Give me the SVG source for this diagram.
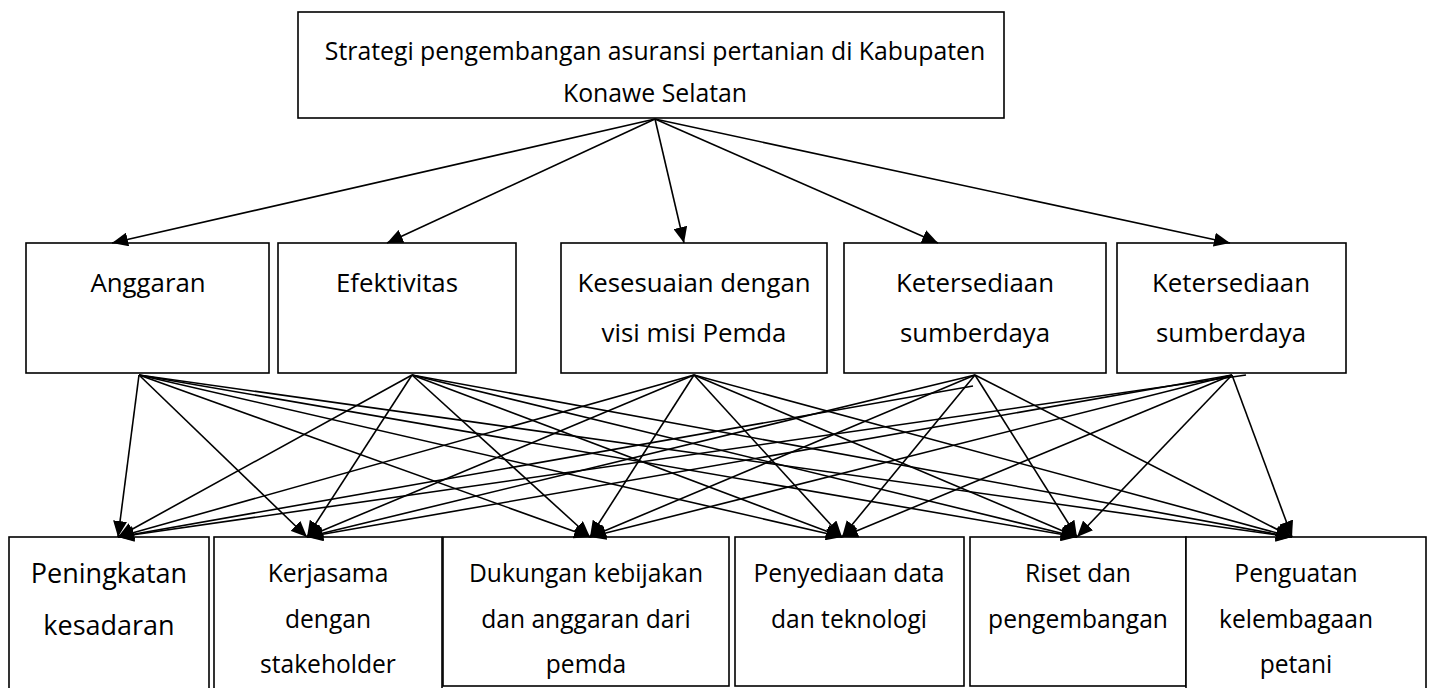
<svg xmlns="http://www.w3.org/2000/svg" width="1431" height="688" viewBox="0 0 1431 688">
<style>
.box{fill:#fff;stroke:#000;stroke-width:1.6}
.t{font-family:"Open Sans","Noto Sans",sans-serif;font-weight:400;fill:#000;text-anchor:middle}
.tt{font-size:24.8px}
.tm{font-size:25.8px}
.tb{font-size:24.6px}
.tp{font-size:27px}
.c line{stroke:#000;stroke-width:1.6;marker-end:url(#ah)}
</style>
<defs>
<marker id="ah" markerUnits="userSpaceOnUse" markerWidth="18" markerHeight="14" refX="16" refY="7" orient="auto">
<path d="M0,0 L16,7 L0,14 Z" fill="#000"/>
</marker>
</defs>
<g id="top">
<rect class="box" x="298" y="12" width="706" height="106"/>
<text class="t tt" x="655" y="60">Strategi pengembangan asuransi pertanian di Kabupaten</text>
<text class="t tt" x="655" y="102">Konawe Selatan</text>
</g>
<g id="anggaran">
<rect class="box" x="26" y="243" width="243" height="130"/>
<text class="t tm" x="148" y="292">Anggaran</text>
</g>
<g id="efektivitas">
<rect class="box" x="278" y="243" width="238" height="130"/>
<text class="t tm" x="397" y="292">Efektivitas</text>
</g>
<g id="kesesuaian">
<rect class="box" x="561" y="243" width="266" height="130"/>
<text class="t tm" x="694" y="292">Kesesuaian dengan</text>
<text class="t tm" x="694" y="342">visi misi Pemda</text>
</g>
<g id="ketersediaan1">
<rect class="box" x="844" y="243" width="262" height="130"/>
<text class="t tm" x="975" y="292">Ketersediaan</text>
<text class="t tm" x="975" y="342">sumberdaya</text>
</g>
<g id="ketersediaan2">
<rect class="box" x="1117" y="243" width="229" height="130"/>
<text class="t tm" x="1231" y="292">Ketersediaan</text>
<text class="t tm" x="1231" y="342">sumberdaya</text>
</g>
<g id="peningkatan">
<rect class="box" x="9" y="537" width="200" height="170"/>
<text class="t tp" x="109" y="583">Peningkatan</text>
<text class="t tp" x="109" y="635">kesadaran</text>
</g>
<g id="kerjasama">
<rect class="box" x="214" y="537" width="228" height="170"/>
<text class="t tb" x="328" y="582">Kerjasama</text>
<text class="t tb" x="328" y="628">dengan</text>
<text class="t tb" x="328" y="673">stakeholder</text>
</g>
<g id="dukungan">
<rect class="box" x="443" y="537" width="286" height="149"/>
<text class="t tb" x="586" y="582">Dukungan kebijakan</text>
<text class="t tb" x="586" y="628">dan anggaran dari</text>
<text class="t tb" x="586" y="673">pemda</text>
</g>
<g id="penyediaan">
<rect class="box" x="735" y="537" width="229" height="149"/>
<text class="t tb" x="849" y="582">Penyediaan data</text>
<text class="t tb" x="849" y="628">dan teknologi</text>
</g>
<g id="riset">
<rect class="box" x="970" y="537" width="216" height="149"/>
<text class="t tb" x="1078" y="582">Riset dan</text>
<text class="t tb" x="1078" y="628">pengembangan</text>
</g>
<g id="penguatan">
<rect class="box" x="1186" y="537" width="240" height="170"/>
<text class="t tb" x="1296" y="582">Penguatan</text>
<text class="t tb" x="1296" y="628">kelembagaan</text>
<text class="t tb" x="1296" y="673">petani</text>
</g>
<g id="connectors" class="c">
<line x1="655" y1="119" x2="112" y2="243"/>
<line x1="655" y1="119" x2="387" y2="243"/>
<line x1="655" y1="119" x2="684" y2="243"/>
<line x1="655" y1="119" x2="938" y2="243"/>
<line x1="655" y1="119" x2="1230" y2="243"/>

<line x1="139" y1="375" x2="118" y2="537"/>
<line x1="139" y1="375" x2="307" y2="537"/>
<line x1="139" y1="375" x2="590" y2="537"/>
<line x1="139" y1="375" x2="842" y2="537"/>
<line x1="139" y1="375" x2="1077" y2="537"/>
<line x1="139" y1="375" x2="1292" y2="537"/>

<line x1="412" y1="375" x2="118" y2="537"/>
<line x1="412" y1="375" x2="307" y2="537"/>
<line x1="412" y1="375" x2="590" y2="537"/>
<line x1="412" y1="375" x2="842" y2="537"/>
<line x1="412" y1="375" x2="1077" y2="537"/>
<line x1="412" y1="375" x2="1292" y2="537"/>

<line x1="694" y1="375" x2="118" y2="537"/>
<line x1="694" y1="375" x2="307" y2="537"/>
<line x1="694" y1="375" x2="590" y2="537"/>
<line x1="694" y1="375" x2="842" y2="537"/>
<line x1="694" y1="375" x2="1077" y2="537"/>
<line x1="694" y1="375" x2="1292" y2="537"/>

<line x1="973" y1="386" x2="118" y2="537"/>
<line x1="975" y1="375" x2="307" y2="537"/>
<line x1="975" y1="375" x2="590" y2="537"/>
<line x1="975" y1="375" x2="842" y2="537"/>
<line x1="975" y1="375" x2="1077" y2="537"/>
<line x1="975" y1="375" x2="1292" y2="537"/>

<line x1="1246" y1="375" x2="118" y2="537"/>
<line x1="1232" y1="375" x2="307" y2="537"/>
<line x1="1232" y1="375" x2="590" y2="537"/>
<line x1="1232" y1="375" x2="842" y2="537"/>
<line x1="1232" y1="375" x2="1077" y2="537"/>
<line x1="1232" y1="375" x2="1292" y2="537"/>
</g>
</svg>
